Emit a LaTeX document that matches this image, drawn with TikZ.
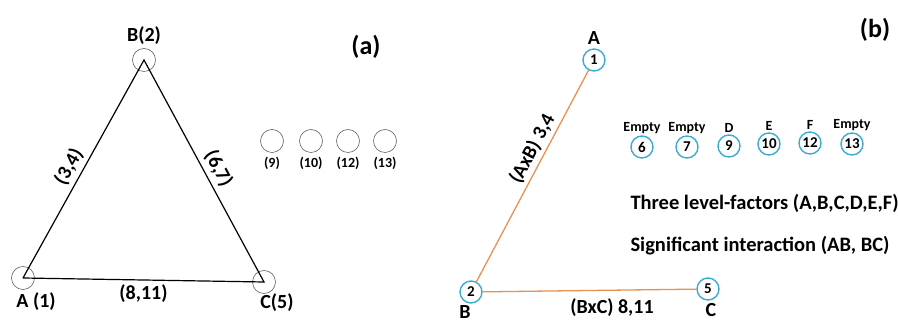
\documentclass[tikz,border=0pt]{standalone}
\usepackage{fontspec}
\setmainfont{Carlito}
\usepackage{tikz}
\usetikzlibrary{positioning}
\definecolor{runblue}{RGB}{60,170,210}
\definecolor{edgeorange}{RGB}{232,145,80}
\definecolor{slotgray}{RGB}{100,100,100}

\tikzset{
  vertex/.style={circle, draw=slotgray, semithick, minimum size=23pt, inner sep=0pt},
  slot/.style={circle, draw=slotgray, semithick, minimum size=23pt, inner sep=0pt},
  run/.style={circle, draw=runblue, line width=1.4pt, minimum size=22pt, inner sep=0pt, font=\bfseries\fontsize{15}{15}\selectfont},
  tag/.style={text=black, font=\bfseries\fontsize{20}{20}\selectfont},
  small/.style={font=\bfseries\fontsize{14}{14}\selectfont},
  panel/.style={font=\bfseries\fontsize{26}{26}\selectfont},
  note/.style={anchor=west, font=\bfseries\fontsize{20.5}{20.5}\selectfont}
}

\begin{document}
\begin{tikzpicture}[x=1pt,y=-1pt]
  \useasboundingbox (0,0) rectangle (898,320);

  % Panel (a): triangle
  \node[vertex] (A) at (23,278) {};
  \node[vertex] (B) at (144,60) {};
  \node[vertex] (C) at (264,282) {};
  \draw[very thick] (A.center) -- node[pos=0.48, sloped, above=1pt, tag] {(3,4)} (B.center)
        -- node[pos=0.52, sloped, above=1pt, tag] {(6,7)} (C.center)
        -- node[midway, below=1pt, tag] {(8,11)} (A.center);
  \node[tag, above=0pt of B] {B(2)};
  \node[tag] at (36,302) {A (1)};
  \node[tag] at (277,303) {C(5)};
  \node[panel] at (366,47) {(a)};

  % Panel (a): empty slots
  \foreach \x/\n in {272/9, 311/10, 348/12, 385/13} {
    \node[slot] (s\n) at (\x,141) {};
    \node[small, below=1pt of s\n] {(\n)};
  }

  % Panel (b): interaction graph
  \node[run] (r1) at (594,60) {1};
  \node[run] (r2) at (471,292) {2};
  \node[run] (r5) at (708,289) {5};
  \draw[edgeorange, line width=1.3pt] (r2) -- node[pos=0.6, sloped, above, tag] {(AxB) 3,4} (r1);
  \draw[edgeorange, line width=1.3pt] (r2) -- (r5);
  \node[tag, above=0pt of r1] {A};
  \node[tag] at (465,312) {B};
  \node[tag] at (711,310) {C};
  \node[tag] at (612,308) {(BxC) 8,11};
  \node[panel] at (875,30) {(b)};

  % Panel (b): remaining columns
  \foreach \x/\y/\n/\f in {642/147/6/Empty, 687/147/7/Empty, 729/146/9/D,
                           769/144/10/E, 810/143/12/F, 852/144/13/Empty} {
    \node[run] (c\n) at (\x,\y) {\n};
    \node[small, above=-2pt of c\n] {\f};
  }

  \node[note] (levels) at (627,203) {Three level-factors (A,B,C,D,E,F)};
  \node[note, below=17pt of levels.south west, anchor=north west] {Significant interaction (AB, BC)};
\end{tikzpicture}
\end{document}
